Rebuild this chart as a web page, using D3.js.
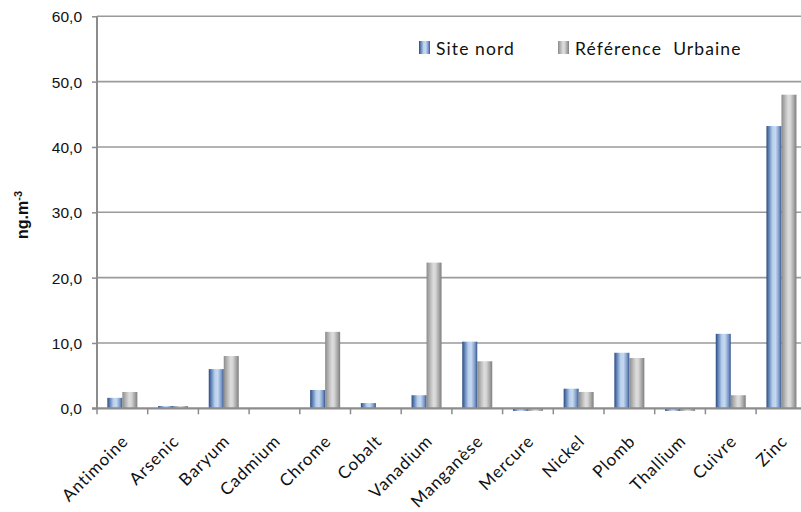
<!DOCTYPE html>
<html>
<head>
<meta charset="utf-8">
<script src="https://cdn.jsdelivr.net/npm/d3@7"></script>
<style>
  html, body { margin: 0; padding: 0; background: #fff; }
  svg { display: block; }
</style>
</head>
<body>
<svg id="chart" width="801" height="512"></svg>
<script>
// Metal concentrations (ng.m-3)
const categories = ["Antimoine", "Arsenic", "Baryum", "Cadmium", "Chrome", "Cobalt", "Vanadium",
  "Manganèse", "Mercure", "Nickel", "Plomb", "Thallium", "Cuivre", "Zinc"];
const siteNord = [1.6, 0.35, 6.0, 0, 2.8, 0.8, 2.0, 10.2, -0.4, 3.0, 8.5, -0.4, 11.4, 43.2];
const refUrbaine = [2.5, 0.35, 8.0, 0, 11.7, 0, 22.3, 7.2, -0.4, 2.5, 7.7, -0.4, 2.0, 48.0];
const seriesNames = ["Site nord", "Référence  Urbaine"];
const yTicks = [0, 10, 20, 30, 40, 50, 60];
const yTitle = "ng.m";
const yTitleSup = "-3";

const svg = d3.select("#chart");
const defs = svg.append("defs");

function addGradient(id, stops) {
  const g = defs.append("linearGradient").attr("id", id)
    .attr("x1", "0%").attr("x2", "100%").attr("y1", "0%").attr("y2", "0%");
  stops.forEach(([o, c]) => g.append("stop").attr("offset", o).attr("stop-color", c));
}
addGradient("gBlue", [["0%", "#2c4a7c"], ["10%", "#4a6ea6"], ["40%", "#b8cfec"], ["60%", "#c6d9f1"], ["85%", "#7a98c6"], ["100%", "#34538a"]]);
addGradient("gGray", [["0%", "#8a8a8a"], ["15%", "#a8a8a8"], ["45%", "#dcdcdc"], ["60%", "#d6d6d6"], ["85%", "#a0a0a0"], ["100%", "#7f7f7f"]]);
const fills = ["url(#gBlue)", "url(#gGray)"];

const x0 = 97, yBase = 408.3, yTop = 16.3;
const x = d3.scaleBand().domain(categories).range([x0, x0 + 14 * 50.7]).padding(0);
const xs = d3.scaleBand().domain([0, 1]).range([0, x.bandwidth()]).paddingInner(0).paddingOuter(0.69);
const y = d3.scaleLinear().domain([0, 60]).range([yBase, yTop]);

const gridCol = "#9a9a9a", axisCol = "#8c8c8c";

// horizontal gridlines
svg.append("g").selectAll("line").data(yTicks.filter(d => d > 0)).join("line")
  .attr("x1", x0).attr("x2", 801)
  .attr("y1", d => y(d)).attr("y2", d => y(d))
  .attr("stroke", gridCol).attr("stroke-width", 1.6);

// bars
const rows = categories.map((c, i) => ({ c, v: [siteNord[i], refUrbaine[i]] }));
svg.append("g").selectAll("g").data(rows).join("g")
  .attr("transform", d => `translate(${x(d.c)},0)`)
  .selectAll("rect").data(d => d.v.map((v, k) => ({ v, k }))).join("rect")
  .attr("x", d => xs(d.k))
  .attr("width", xs.bandwidth())
  .attr("y", d => Math.min(y(d.v), y(0)))
  .attr("height", d => Math.abs(y(d.v) - y(0)))
  .attr("fill", d => fills[d.k]);

// y axis
const yAxis = d3.axisLeft(y).tickValues(yTicks).tickSize(5).tickPadding(10)
  .tickFormat(d => d3.format(".1f")(d).replace(".", ","));
const gy = svg.append("g").attr("transform", `translate(${x0},0)`).call(yAxis);
gy.select(".domain").attr("stroke", axisCol).attr("stroke-width", 2).attr("d", `M0,${yTop}V${yBase}`);
gy.selectAll(".tick line").attr("stroke", axisCol).attr("stroke-width", 1.5);
gy.selectAll(".tick text").attr("font-family", "Liberation Sans, Arial, sans-serif")
  .attr("font-size", 15.5).attr("fill", "#111").attr("dy", "0.36em");

// x axis
const gx = svg.append("g").attr("transform", `translate(0,${yBase})`);
gx.append("line").attr("x1", x0 - 5).attr("x2", 801).attr("y1", 0).attr("y2", 0)
  .attr("stroke", axisCol).attr("stroke-width", 2.2);
const bounds = categories.map(c => x(c)).concat([x(categories[13]) + x.bandwidth()]);
gx.selectAll("line.tk").data(bounds).join("line").attr("class", "tk")
  .attr("x1", d => d).attr("x2", d => d).attr("y1", 0).attr("y2", 6)
  .attr("stroke", axisCol).attr("stroke-width", 1.5);
gx.selectAll("text").data(categories).join("text")
  .attr("transform", d => `translate(${x(d) + x.bandwidth() / 2 + 7},${34}) rotate(-45)`)
  .attr("text-anchor", "end")
  .attr("font-family", "Lato, 'Open Sans', sans-serif")
  .attr("font-size", 17)
  .attr("letter-spacing", 0.9)
  .attr("fill", "#111")
  .text(d => d);

// y axis title
const t = svg.append("text")
  .attr("transform", `translate(28,${215}) rotate(-90)`)
  .attr("text-anchor", "middle")
  .attr("font-family", "Liberation Sans, Arial, sans-serif")
  .attr("font-weight", "bold").attr("font-size", 16).attr("fill", "#111");
t.append("tspan").text(yTitle);
t.append("tspan").attr("baseline-shift", "super").attr("font-size", 11).text(yTitleSup);

// legend
const legend = svg.append("g");
const legX = [419, 558];
seriesNames.forEach((name, k) => {
  legend.append("rect").attr("x", legX[k]).attr("y", 41).attr("width", 11).attr("height", 13)
    .attr("fill", fills[k]);
  legend.append("text").attr("x", legX[k] + 17).attr("y", 54.5)
    .attr("font-family", "Lato, 'Open Sans', sans-serif").attr("font-size", 17.5)
    .attr("letter-spacing", 1.1).attr("fill", "#111")
    .attr("xml:space", "preserve").style("white-space", "pre")
    .text(name);
});
</script>
</body>
</html>
